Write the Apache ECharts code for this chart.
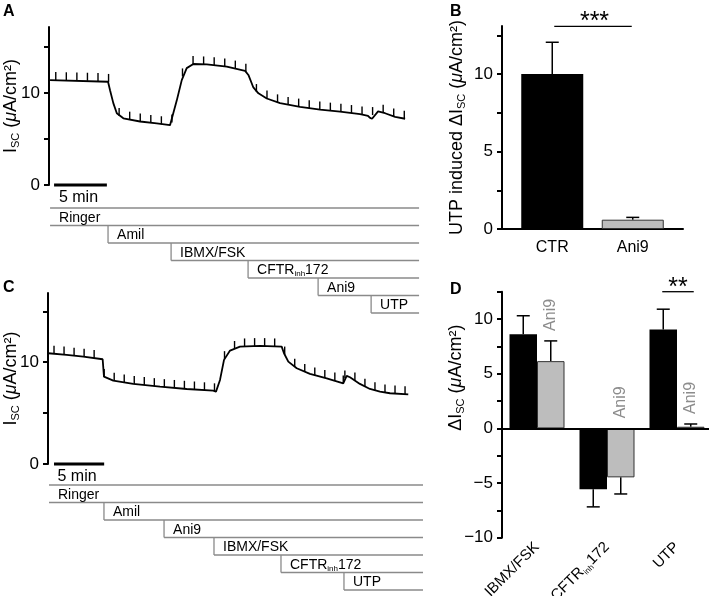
<!DOCTYPE html>
<html><head><meta charset="utf-8">
<script src="https://cdn.jsdelivr.net/npm/echarts@6/dist/echarts.min.js"></script>
<style>html,body{margin:0;padding:0;background:#fff}#c{width:709px;height:596px}</style>
</head><body><div id="c"></div><script>
const FONT = '"Liberation Sans", Arial, Helvetica, sans-serif';

// ---------- Panel A : Isc trace (time in min, Isc in µA/cm²) ----------
const traceA = [[0,11.4],[5.49,11.22],[5.68,10.3],[5.99,8.9],[6.32,7.8],[6.94,7.25],[8.52,6.9],[10.1,6.7],[11.36,6.5],[11.52,6.7],[12.0,9.2],[12.47,11.4],[12.94,12.7],[13.57,13.15],[14.84,13.1],[16.73,12.86],[18.47,12.4],[18.78,11.96],[19.25,10.6],[19.73,9.96],[20.52,9.4],[21.78,8.9],[23.67,8.5],[25.57,8.2],[27.46,7.97],[29.36,7.7],[30.11,7.5],[30.3,7.3],[30.49,7.2],[31.06,8.0],[31.72,7.8],[32.67,7.4],[33.62,7.2]];
const pulsesA = [[0.54,11.4],[1.54,11.38],[2.54,11.35],[3.54,11.33],[4.54,11.3],[5.54,11.2],[6.54,7.5],[7.54,7.1],[8.54,6.9],[9.54,6.75],[10.54,6.6],[11.54,6.8],[12.54,11.8],[13.54,13.15],[14.54,13.1],[15.54,13.0],[16.54,12.88],[17.54,12.65],[18.54,12.3],[19.54,10.1],[20.54,9.4],[21.54,8.98],[22.54,8.7],[23.54,8.52],[24.54,8.35],[25.54,8.2],[26.54,8.08],[27.54,7.95],[28.54,7.82],[29.54,7.65],[30.54,7.6],[31.54,7.85],[32.54,7.45],[33.54,7.2]];
const scaleA = [[0.38, 5.38]];
const stepNamesA = ['Ringer','Amil','IBMX/FSK','CFTRinh172','Ani9','UTP'];
const stepStartA = [0, 5.49, 11.46, 18.75, 25.38, 30.4];
const stepEndA = 34.94;
const ticksA = [0,5,10,15], labelsA = [0,10];

// ---------- Panel C : Isc trace ----------
const traceC = [[0.03,10.88],[1.86,10.72],[3.52,10.55],[5.45,10.29],[5.58,8.58],[6.51,8.19],[8.5,7.87],[11.17,7.6],[13.83,7.37],[16.48,7.21],[16.75,7.11],[17.15,8.26],[17.55,10.23],[18.15,11.14],[19.14,11.53],[21.14,11.6],[23.3,11.53],[23.53,10.88],[23.96,10.06],[24.8,9.41],[26.12,8.85],[27.79,8.42],[29.44,7.92],[29.78,8.65],[30.11,8.52],[31.1,7.87],[32.1,7.37],[33.1,7.11],[34.1,6.95],[35.92,6.85]];
const pulsesC = [[0.6,10.83],[1.6,10.75],[2.6,10.64],[3.6,10.54],[4.6,10.42],[5.6,8.55],[6.6,8.18],[7.6,8.0],[8.6,7.86],[9.6,7.75],[10.6,7.65],[11.6,7.55],[12.6,7.47],[13.6,7.39],[14.6,7.32],[15.6,7.24],[16.6,7.14],[17.6,10.3],[18.6,11.3],[19.6,11.55],[20.6,11.58],[21.6,11.58],[22.6,11.55],[23.6,10.75],[24.6,9.55],[25.6,9.05],[26.6,8.7],[27.6,8.45],[28.6,8.2],[29.44,7.92],[29.6,8.4],[30.6,8.2],[31.6,7.6],[32.6,7.24],[33.6,7.03],[34.6,6.92],[35.6,6.86]];
const scaleC = [[0.6, 5.6]];
const stepNamesC = ['Ringer','Amil','Ani9','IBMX/FSK','CFTRinh172','UTP'];
const stepStartC = [0.1, 5.58, 11.57, 16.55, 23.23, 29.51];
const stepEndC = 37.39;
const ticksC = [0,5,10,15], labelsC = [0,10];

// ---------- Panel B ----------
const catsB = ['CTR','Ani9'];
const meanB = [10, 0.6];
const errB = [2.05, 0.15];
const sigB = [[0, 1, 13.07, '***']];
const ticksB = [0,2.5,5,7.5,10,12.5], labelsB = [0,5,10];

// ---------- Panel D ----------
const catsD = ['IBMX/FSK','CFTRinh172','UTP'];
const meanCtrD = [8.6, -5.58, 9.05];
const errCtrD = [1.7, 1.6, 1.85];
const meanAniD = [6.15, -4.48, 0.15];
const errAniD = [1.85, 1.52, 0.25];
const sigD = [[2, 12.5, '**']];
const ticksD = [-10,-7.5,-5,-2.5,0,2.5,5,7.5,10,12.5], labelsD = [-10,-5,0,5,10];

// ---------- styles ----------
const PULSE_PX = 8, BAR_D = 27.5, CAP = 6.5;
const GREY_FILL = '#bdbdbd', GREY_LINE = '#8a8a8a', GREY_TEXT = '#8c8c8c';
const nameRich = {
  sub: {fontSize: 11, fontFamily: FONT, color: '#000', verticalAlign: 'bottom', lineHeight: 12},
  it: {fontSize: 18, fontFamily: FONT, color: '#000', fontStyle: 'italic', lineHeight: 20}
};
const subRich = {s: {fontSize: 8, fontFamily: FONT, fill: '#000', color: '#000', verticalAlign: 'bottom', lineHeight: 9}};
const richify = s => s.replace('inh', '{s|inh}');
const minus = v => String(v).replace('-', '\u2212');

function valueY(grid, min, max, ticks, labels, name, nameGap, extra) {
  const ax = {
    type: 'value', gridIndex: grid, min: min, max: max,
    axisLine: {show: true, onZero: false, lineStyle: {color: '#000', width: 2}},
    axisTick: {show: true, inside: false, length: 5, lineStyle: {color: '#000', width: 2}, customValues: ticks},
    axisLabel: {show: true, customValues: labels, fontSize: 17, fontFamily: FONT, color: '#000', margin: 9, formatter: minus},
    splitLine: {show: false},
    name: name, nameLocation: 'middle', nameGap: nameGap, nameRotate: 90, nameMoveOverlap: false,
    nameTextStyle: {fontSize: 18, fontFamily: FONT, color: '#000', lineHeight: 20, rich: nameRich}
  };
  if (extra) {
    if (extra.offset !== undefined) ax.offset = extra.offset;
    if (extra.padding) ax.nameTextStyle.padding = extra.padding;
  }
  return ax;
}

function pulseRender(params, api) {
  const p = api.coord([api.value(0), api.value(1)]);
  return {type: 'line', shape: {x1: p[0], y1: p[1], x2: p[0], y2: p[1] - PULSE_PX},
    style: {stroke: '#000', lineWidth: 1.4}};
}
function scaleRender(params, api) {
  const a = api.coord([api.value(0), 0]), b = api.coord([api.value(1), 0]);
  return {type: 'group', children: [
    {type: 'line', shape: {x1: a[0], y1: a[1], x2: b[0], y2: b[1]}, style: {stroke: '#000', lineWidth: 3}},
    {type: 'text', x: (a[0] + b[0]) / 2 - 2, y: a[1] + 5,
      style: {text: '5 min', fontSize: 16, fontFamily: FONT, fill: '#000', align: 'center', verticalAlign: 'top', textAlign: 'center', textVerticalAlign: 'top'}}
  ]};
}
function stepRender(names, endT) {
  return function (params, api) {
    const s = api.value(0), row = api.value(1), idx = params.dataIndex;
    const s0 = api.coord([s, row]), s1 = api.coord([s, row + 1]);
    const e0 = api.coord([endT, row]), e1 = api.coord([endT, row + 1]);
    const ls = {stroke: GREY_LINE, lineWidth: 1.3};
    const ch = [];
    if (row === 0) ch.push({type: 'line', shape: {x1: s0[0], y1: s0[1], x2: e0[0], y2: e0[1]}, style: ls});
    else ch.push({type: 'line', shape: {x1: s0[0], y1: s0[1], x2: s1[0], y2: s1[1]}, style: ls});
    ch.push({type: 'line', shape: {x1: s1[0], y1: s1[1], x2: e1[0], y2: e1[1]}, style: ls});
    ch.push({type: 'text', x: s0[0] + 9, y: (s0[1] + s1[1]) / 2 + 1,
      style: {text: richify(names[idx]), fontSize: 14, fontFamily: FONT, fill: '#000', lineHeight: 16,
        align: 'left', verticalAlign: 'middle', textAlign: 'left', textVerticalAlign: 'middle', rich: subRich}});
    return {type: 'group', children: ch};
  };
}
function errRenderB(params, api) {
  const c = api.value(0);
  const p0 = api.coord([c, api.value(1)]), p1 = api.coord([c, api.value(2)]);
  const st = {stroke: '#000', lineWidth: 1.5};
  return {type: 'group', children: [
    {type: 'line', shape: {x1: p0[0], y1: p0[1], x2: p1[0], y2: p1[1]}, style: st},
    {type: 'line', shape: {x1: p1[0] - CAP, y1: p1[1], x2: p1[0] + CAP, y2: p1[1]}, style: st}
  ]};
}
function errRenderD(params, api) {
  const c = api.value(0), k = api.value(1);
  const dx = (k === 0 ? -1 : 1) * BAR_D / 2;
  const p0 = api.coord([c, api.value(2)]), p1 = api.coord([c, api.value(3)]);
  const x = p0[0] + dx;
  const st = {stroke: '#000', lineWidth: 1.5};
  return {type: 'group', children: [
    {type: 'line', shape: {x1: x, y1: p0[1], x2: x, y2: p1[1]}, style: st},
    {type: 'line', shape: {x1: x - CAP, y1: p1[1], x2: x + CAP, y2: p1[1]}, style: st}
  ]};
}
function aniLabelRender(params, api) {
  const c = api.value(0), top = Math.max(api.value(1), 0);
  const p = api.coord([c, top]);
  return {type: 'text', x: p[0] + BAR_D / 2, y: p[1] - 10, rotation: Math.PI / 2,
    style: {text: 'Ani9', fontSize: 16, fontFamily: FONT, fill: GREY_TEXT, align: 'left', verticalAlign: 'middle', textAlign: 'left', textVerticalAlign: 'middle'}};
}
function sigRenderB(params, api) {
  const y = api.value(2);
  const a = api.coord([api.value(0), y]), b = api.coord([api.value(1), y]);
  return {type: 'group', children: [
    {type: 'line', shape: {x1: a[0] + 2, y1: a[1], x2: b[0] - 1, y2: b[1]}, style: {stroke: '#000', lineWidth: 1.3}},
    {type: 'text', x: (a[0] + b[0]) / 2 + 2, y: a[1] - 4,
      style: {text: sigB[params.dataIndex][3], fontSize: 25, fontFamily: FONT, fill: '#000', align: 'center', verticalAlign: 'middle', textAlign: 'center', textVerticalAlign: 'middle'}}
  ]};
}
function sigRenderD(params, api) {
  const p = api.coord([api.value(0), api.value(1)]);
  const x1 = p[0] - BAR_D / 2 - 1, x2 = p[0] + BAR_D / 2 + 3;
  return {type: 'group', children: [
    {type: 'line', shape: {x1: x1, y1: p[1], x2: x2, y2: p[1]}, style: {stroke: '#000', lineWidth: 1.3}},
    {type: 'text', x: (x1 + x2) / 2, y: p[1] - 3.5,
      style: {text: sigD[params.dataIndex][2], fontSize: 25, fontFamily: FONT, fill: '#000', align: 'center', verticalAlign: 'middle', textAlign: 'center', textVerticalAlign: 'middle'}}
  ]};
}

const nameIsc = 'I{sub|SC} ({it|μ}A/cm²)';
const nameB = 'UTP induced ΔI{sub|SC} ({it|μ}A/cm²)';
const nameD = 'ΔI{sub|SC} ({it|μ}A/cm²)';
const titleStyle = {fontSize: 16, fontWeight: 'bold', fontFamily: FONT, color: '#000'};

const errDataD = [];
catsD.forEach((c, i) => {
  errDataD.push([i, 0, meanCtrD[i], meanCtrD[i] + Math.sign(meanCtrD[i]) * errCtrD[i]]);
  errDataD.push([i, 1, meanAniD[i], meanAniD[i] + Math.sign(meanAniD[i]) * errAniD[i]]);
});
const aniLabelData = catsD.map((c, i) => [i, meanAniD[i] + Math.sign(meanAniD[i]) * errAniD[i]]);

function custom(xi, yi, data, render, z) {
  return {type: 'custom', coordinateSystem: 'cartesian2d', xAxisIndex: xi, yAxisIndex: yi,
    data: data, renderItem: render, clip: false, silent: true, z: z || 4};
}

const option = {
  animation: false,
  backgroundColor: '#fff',
  title: [
    {text: 'A', left: 3, top: 4, padding: 0, textStyle: titleStyle},
    {text: 'B', left: 450, top: 4, padding: 0, textStyle: titleStyle},
    {text: 'C', left: 3, top: 280, padding: 0, textStyle: titleStyle},
    {text: 'D', left: 450, top: 282, padding: 0, textStyle: titleStyle}
  ],
  grid: [
    {left: 49, top: 27, width: 370.7, height: 158, outerBoundsMode: 'none'},
    {left: 49, top: 208, width: 370.7, height: 105, outerBoundsMode: 'none'},
    {left: 48, top: 293, width: 375.1, height: 171, outerBoundsMode: 'none'},
    {left: 48, top: 485, width: 375.1, height: 105, outerBoundsMode: 'none'},
    {left: 512, top: 26, width: 161, height: 203, outerBoundsMode: 'none'},
    {left: 502, top: 26, width: 181, height: 203, outerBoundsMode: 'none'},
    {left: 502, top: 291.7, width: 210, height: 246, outerBoundsMode: 'none'}
  ],
  xAxis: [
    {type: 'value', gridIndex: 0, min: -0.1, max: 35, show: false},
    {type: 'value', gridIndex: 1, min: -0.1, max: 35, show: false},
    {type: 'value', gridIndex: 2, min: 0, max: 37.4, show: false},
    {type: 'value', gridIndex: 3, min: 0, max: 37.4, show: false},
    {type: 'category', gridIndex: 4, data: catsB, axisLine: {show: false}, axisTick: {show: false}, splitLine: {show: false},
      axisLabel: {fontSize: 16, fontFamily: FONT, color: '#000', margin: 11}},
    {type: 'value', gridIndex: 5, min: 0, max: 1, axisLine: {show: true, onZero: false, lineStyle: {color: '#000', width: 2}},
      axisTick: {show: false}, axisLabel: {show: false}, splitLine: {show: false}},
    {type: 'category', gridIndex: 6, data: catsD, axisLine: {show: false}, axisTick: {show: false}, splitLine: {show: false},
      axisLabel: {rotate: 45, interval: 0, fontSize: 15, fontFamily: FONT, color: '#000', margin: 7, lineHeight: 18,
        formatter: richify, rich: {s: {fontSize: 8, fontFamily: FONT, color: '#000', verticalAlign: 'bottom', lineHeight: 9}}}}
  ],
  yAxis: [
    valueY(0, 0, 17.17, ticksA, labelsA, nameIsc, 28),
    {type: 'value', gridIndex: 1, min: 0, max: 6, inverse: true, show: false},
    valueY(2, 0, 16.8, ticksC, labelsC, nameIsc, 27),
    {type: 'value', gridIndex: 3, min: 0, max: 6, inverse: true, show: false},
    valueY(4, 0, 13.1, ticksB, labelsB, nameB, 35, {offset: 10}),
    {type: 'value', gridIndex: 5, min: 0, max: 13.1, show: false},
    valueY(6, -10, 12.5, ticksD, labelsD, nameD, 36, {padding: [0, 0, 0, 74]})
  ],
  series: [
    {type: 'line', xAxisIndex: 0, yAxisIndex: 0, data: traceA, showSymbol: false, symbol: 'none', silent: true,
      lineStyle: {color: '#000', width: 1.8}, z: 3},
    custom(0, 0, pulsesA, pulseRender),
    custom(0, 0, scaleA, scaleRender),
    custom(1, 1, stepStartA.map((s, i) => [s, i]), stepRender(stepNamesA, stepEndA)),
    {type: 'line', xAxisIndex: 2, yAxisIndex: 2, data: traceC, showSymbol: false, symbol: 'none', silent: true,
      lineStyle: {color: '#000', width: 1.8}, z: 3},
    custom(2, 2, pulsesC, pulseRender),
    custom(2, 2, scaleC, scaleRender),
    custom(3, 3, stepStartC.map((s, i) => [s, i]), stepRender(stepNamesC, stepEndC)),
    {type: 'bar', xAxisIndex: 4, yAxisIndex: 4, barWidth: 62, silent: true,
      data: meanB.map((v, i) => ({value: v, itemStyle: i === 0 ? {color: '#000'} : {color: GREY_FILL, borderColor: '#333', borderWidth: 1}}))},
    custom(4, 4, meanB.map((v, i) => [i, v, v + errB[i]]), errRenderB, 1),
    custom(4, 4, sigB.map(d => [d[0], d[1], d[2]]), sigRenderB),
    {type: 'bar', xAxisIndex: 6, yAxisIndex: 6, barWidth: BAR_D, barGap: '0%', silent: true, data: meanCtrD,
      itemStyle: {color: '#000'},
      markLine: {symbol: ['none', 'none'], silent: true, animation: false, label: {show: false},
        lineStyle: {color: '#000', width: 2, type: 'solid'}, emphasis: {disabled: true}, data: [{yAxis: 0}]}},
    {type: 'bar', xAxisIndex: 6, yAxisIndex: 6, barWidth: BAR_D, barGap: '0%', silent: true, data: meanAniD,
      itemStyle: {color: GREY_FILL, borderColor: '#333', borderWidth: 1}},
    custom(6, 6, errDataD, errRenderD, 1),
    custom(6, 6, aniLabelData, aniLabelRender),
    custom(6, 6, sigD.map(d => [d[0], d[1]]), sigRenderD)
  ]
};
const chart = echarts.init(document.getElementById('c'), null, {renderer: 'canvas', width: 709, height: 596});
chart.setOption(option);
</script></body></html>
